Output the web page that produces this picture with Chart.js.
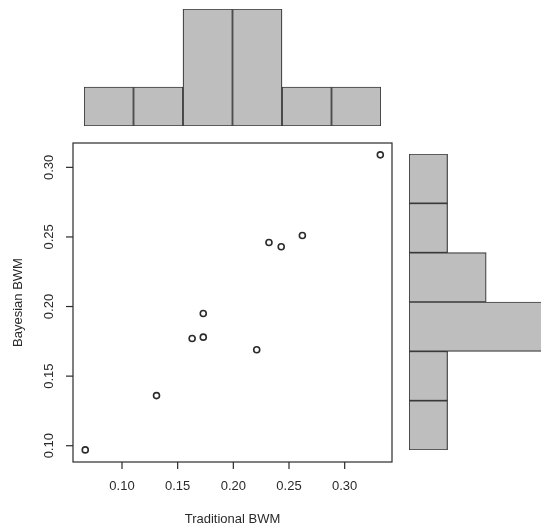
<!DOCTYPE html>
<html>
<head>
<meta charset="utf-8">
<script src="https://cdn.jsdelivr.net/npm/chart.js"></script>
<style>
  body { margin: 0; background: #fff; }
  #wrap { position: relative; width: 550px; height: 530px; }
  #wrap canvas { position: absolute; left: 0; top: 0; }
</style>
</head>
<body>
<div id="wrap">
  <canvas id="topHist" width="550" height="530"></canvas>
  <canvas id="sideHist" width="550" height="530"></canvas>
  <canvas id="scatter" width="550" height="530"></canvas>
</div>
<script>
// scatter values
const traditional = [0.067, 0.131, 0.163, 0.173, 0.173, 0.221, 0.232, 0.243, 0.262, 0.332];
const bayesian = [0.097, 0.136, 0.177, 0.178, 0.195, 0.169, 0.246, 0.243, 0.251, 0.309];

// marginal histograms (counts per bin)
const topBins = ['b1', 'b2', 'b3', 'b4', 'b5', 'b6'];
const topCounts = [1, 1, 3, 3, 1, 1];
const sideBins = ['b1', 'b2', 'b3', 'b4', 'b5', 'b6']; // top to bottom
const sideCounts = [1, 1, 2, 4, 1, 1];

const tickValues = [0.10, 0.15, 0.20, 0.25, 0.30];
const tickLabels = ['0.10', '0.15', '0.20', '0.25', '0.30'];

const FONT = '13px "Liberation Sans", Arial, sans-serif';
const INK = '#2a2a2a';
const BAR_FILL = '#bebebe';
const BAR_LINE = '#3a3a3a';

Chart.defaults.animation = false;
Chart.defaults.responsive = false;
Chart.defaults.devicePixelRatio = 1;
Chart.defaults.plugins.legend.display = false;
Chart.defaults.plugins.tooltip.enabled = false;

// R-style box + axes drawn through the chart's own scales
const rAxes = {
  id: 'rAxes',
  afterDraw(chart) {
    const ctx = chart.ctx;
    const a = chart.chartArea;
    const xs = chart.scales.x;
    const ys = chart.scales.y;
    ctx.save();
    ctx.strokeStyle = INK;
    ctx.lineWidth = 1.2;
    ctx.strokeRect(a.left, a.top, a.right - a.left, a.bottom - a.top);

    ctx.fillStyle = INK;
    ctx.font = FONT;
    ctx.textAlign = 'center';
    ctx.textBaseline = 'middle';
    tickValues.forEach((v, i) => {
      const px = xs.getPixelForValue(v);
      ctx.beginPath();
      ctx.moveTo(px, a.bottom);
      ctx.lineTo(px, a.bottom + 7);
      ctx.stroke();
      ctx.fillText(tickLabels[i], px, a.bottom + 24);

      const py = ys.getPixelForValue(v);
      ctx.beginPath();
      ctx.moveTo(a.left, py);
      ctx.lineTo(a.left - 7, py);
      ctx.stroke();
      ctx.save();
      ctx.translate(a.left - 24, py);
      ctx.rotate(-Math.PI / 2);
      ctx.fillText(tickLabels[i], 0, 0);
      ctx.restore();
    });

    ctx.fillText('Traditional BWM', (a.left + a.right) / 2, a.bottom + 57);
    ctx.save();
    ctx.translate(a.left - 55, (a.top + a.bottom) / 2);
    ctx.rotate(-Math.PI / 2);
    ctx.fillText('Bayesian BWM', 0, 0);
    ctx.restore();
    ctx.restore();
  }
};

new Chart(document.getElementById('scatter'), {
  type: 'scatter',
  data: {
    datasets: [{
      data: traditional.map((x, i) => ({ x: x, y: bayesian[i] })),
      pointRadius: 3,
      pointBorderWidth: 1.6,
      borderColor: INK,
      backgroundColor: 'rgba(0,0,0,0)'
    }]
  },
  options: {
    layout: { padding: { left: 73, top: 143, right: 158, bottom: 68 } },
    scales: {
      x: { type: 'linear', min: 0.056, max: 0.3425, display: false },
      y: { type: 'linear', min: 0.0883, max: 0.3175, display: false }
    }
  },
  plugins: [rAxes]
});

new Chart(document.getElementById('topHist'), {
  type: 'bar',
  data: {
    labels: topBins,
    datasets: [{
      data: topCounts,
      backgroundColor: BAR_FILL,
      borderColor: BAR_LINE,
      borderWidth: 1.2,
      borderSkipped: false,
      barPercentage: 1,
      categoryPercentage: 1
    }]
  },
  options: {
    layout: { padding: { left: 84, top: 9, right: 169, bottom: 404 } },
    scales: {
      x: { display: false },
      y: { min: 0, max: 3, display: false }
    }
  }
});

new Chart(document.getElementById('sideHist'), {
  type: 'bar',
  data: {
    labels: sideBins,
    datasets: [{
      data: sideCounts,
      backgroundColor: BAR_FILL,
      borderColor: BAR_LINE,
      borderWidth: 1.2,
      borderSkipped: false,
      barPercentage: 1,
      categoryPercentage: 1,
      clip: 0
    }]
  },
  options: {
    indexAxis: 'y',
    layout: { padding: { left: 409, top: 154, right: 9, bottom: 80 } },
    scales: {
      x: { min: 0, max: 3.42, display: false },
      y: { display: false }
    }
  }
});
</script>
</body>
</html>
